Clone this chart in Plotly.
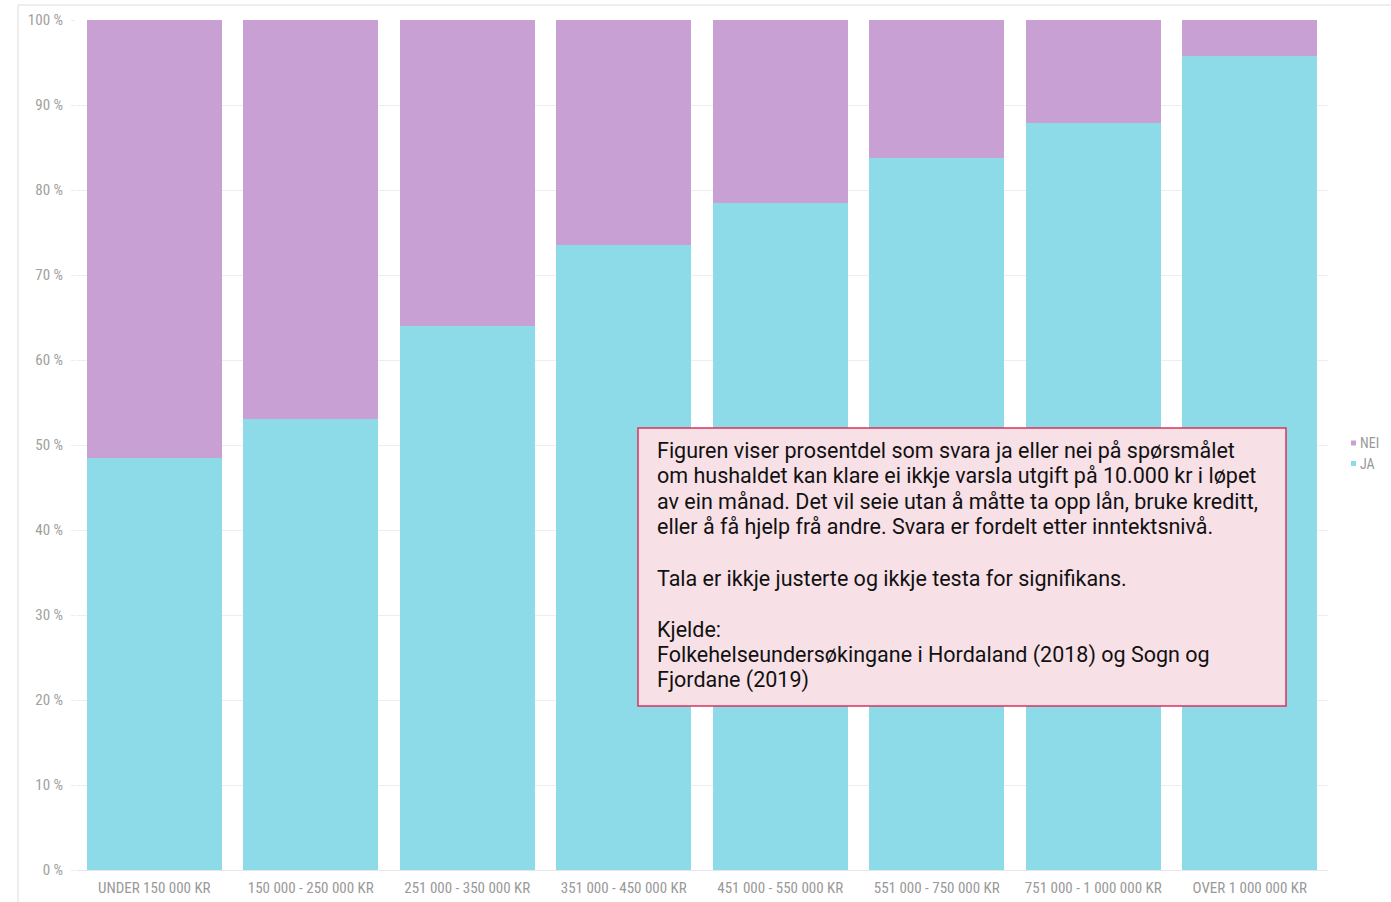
import plotly.graph_objects as go

categories = ["UNDER 150 000 KR", "150 000 - 250 000 KR", "251 000 - 350 000 KR",
              "351 000 - 450 000 KR", "451 000 - 550 000 KR", "551 000 - 750 000 KR",
              "751 000 - 1 000 000 KR", "OVER 1 000 000 KR"]
ja = [48.5, 53.1, 64.0, 73.5, 78.5, 83.8, 87.9, 95.8]
nei = [round(100 - v, 1) for v in ja]
legend_names = ["NEI", "JA"]

note_lines = [
    "Figuren viser prosentdel som svara ja eller nei på spørsmålet",
    "om hushaldet kan klare ei ikkje varsla utgift på 10.000 kr i løpet",
    "av ein månad. Det vil seie utan å måtte ta opp lån, bruke kreditt,",
    "eller å få hjelp frå andre. Svara er fordelt etter inntektsnivå.",
    "",
    "Tala er ikkje justerte og ikkje testa for signifikans.",
    "",
    "Kjelde:",
    "Folkehelseundersøkingane i Hordaland (2018) og Sogn og",
    "Fjordane (2019)",
]

ja_color = "#8ddbe9"
nei_color = "#c9a0d4"
tick_font = "Liberation Sans Narrow, Roboto Condensed, Roboto, sans-serif"

fig = go.Figure()
fig.add_trace(go.Bar(x=categories, y=ja, name="JA", showlegend=False,
                     marker=dict(color=ja_color, line=dict(width=0))))
fig.add_trace(go.Bar(x=categories, y=nei, name="NEI", showlegend=False,
                     marker=dict(color=nei_color, line=dict(width=0))))

L, R, T, B = 76, 63, 20, 32
W, H = 1391, 902
pw, ph = W - L - R, H - T - B


def px(x):
    return (x - L) / pw


def py(y):
    return (H - B - y) / ph


shapes = [
    dict(type="line", xref="paper", yref="paper", x0=px(18), x1=px(1391),
         y0=py(5), y1=py(5), line=dict(color="#dddddd", width=1)),
    dict(type="line", xref="paper", yref="paper", x0=px(18), x1=px(18),
         y0=py(5), y1=py(902), line=dict(color="#dddddd", width=1)),
    dict(type="rect", xref="paper", yref="paper", x0=px(638), x1=px(1286),
         y0=py(428), y1=py(706), fillcolor="#f8e0e7",
         line=dict(color="#d8345f", width=1.5), layer="above"),
]

annotations = []
for i, line in enumerate(note_lines):
    if not line:
        continue
    annotations.append(dict(
        text=line, xref="paper", yref="paper", x=px(655), y=py(450 + 25.6 * i),
        xanchor="left", yanchor="middle", showarrow=False, align="left",
        font=dict(family="Roboto", size=21.5, color="#111111"),
    ))

legend_colors = [nei_color, ja_color]
for i, (name, col) in enumerate(zip(legend_names, legend_colors)):
    yc = 443 + 20.5 * i
    shapes.append(dict(type="rect", xref="paper", yref="paper",
                       x0=px(1351), x1=px(1356), y0=py(yc - 2.5), y1=py(yc + 2.5),
                       fillcolor=col, line=dict(width=0)))
    annotations.append(dict(text=name, xref="paper", yref="paper", x=px(1358),
                            y=py(yc), xanchor="left", yanchor="middle",
                            showarrow=False,
                            font=dict(family=tick_font, size=14, color="#999999")))

fig.update_layout(
    barmode="stack",
    bargap=0.137,
    width=W, height=H,
    margin=dict(l=L, r=R, t=T, b=B, autoexpand=False),
    paper_bgcolor="white",
    plot_bgcolor="white",
    font=dict(family=tick_font, color="#999999", size=15),
    showlegend=False,
    xaxis=dict(showgrid=False, showline=True, linecolor="#e6e6e6", ticks="",
               automargin=False,
               tickfont=dict(size=15, color="#999999"), ticklabelstandoff=4),
    yaxis=dict(range=[0, 100], dtick=10, ticksuffix=" %", showgrid=True,
               automargin=False,
               gridcolor="#eeeeee", zeroline=False, showline=False,
               ticks="outside", ticklen=4, tickcolor="#eeeeee",
               tickfont=dict(size=15, color="#a0a0a0"), ticklabelstandoff=5),
    shapes=shapes,
    annotations=annotations,
)

fig.write_html("out.html", config={"displayModeBar": False},
               post_script="document.body.style.margin='0';")
